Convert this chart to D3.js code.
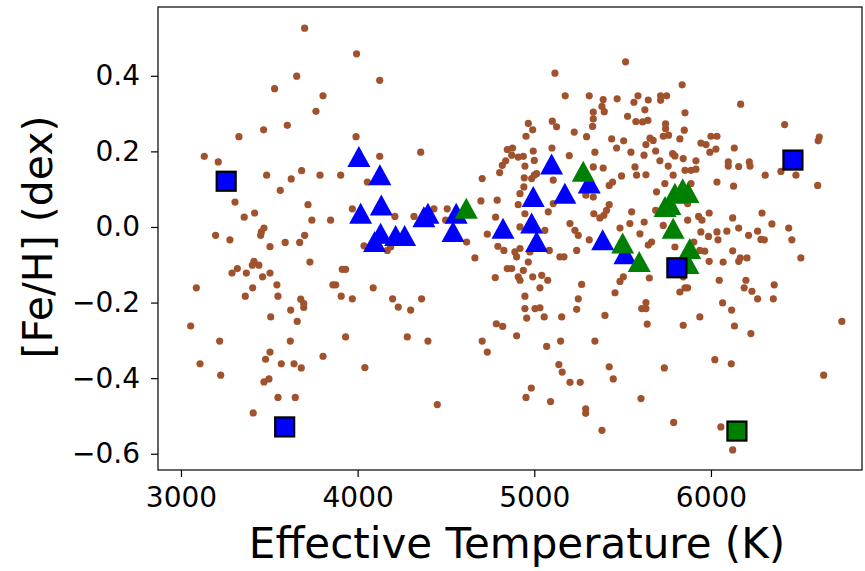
<!DOCTYPE html>
<html>
<head>
<meta charset="UTF-8">
<title>Teff vs FeH</title>
<script src="https://cdn.jsdelivr.net/npm/d3@7"></script>
<style>
  body { margin: 0; background: #fff; }
  svg text { font-family: "DejaVu Sans", sans-serif; }
</style>
</head>
<body>
<svg id="chart" width="865" height="571"></svg>
<script>
// background sample (brown dots): [Teff, [Fe/H]]
const fieldStars = [
  [3700,0.526],[3655,0.399],[3530,0.366],[3804,0.347],[3764,0.306],[3602,0.269],[3468,0.257],[3328,0.239],[3132,0.187],[3211,0.172],
  [3994,0.458],[4125,0.388],[3991,0.239],[4125,0.187],[4357,0.198],[4847,0.205],[4838,0.175],
  [5517,0.437],[5117,0.407],[5837,0.376],[5175,0.347],[5311,0.347],[5390,0.337],[5469,0.339],[5587,0.347],[5564,0.330],
  [5645,0.336],[5715,0.347],[5749,0.347],[5715,0.335],[5383,0.319],[5396,0.305],[5334,0.304],[5626,0.310],[5853,0.302],
  [5528,0.293],[5334,0.286],[5575,0.279],[5613,0.278],[5643,0.282],[5102,0.280],[5126,0.265],[5330,0.266],[4966,0.274],
  [4991,0.257],[5743,0.273],[5743,0.260],[5849,0.256],[5226,0.251],[4953,0.240],[5296,0.239],[5730,0.240],[5760,0.243],
  [5438,0.233],[5506,0.228],[5655,0.235],[5673,0.229],[5824,0.233],[5632,0.218],[5466,0.209],[5547,0.198],[5687,0.201],
  [5621,0.190],[5343,0.198],[5100,0.209],[4994,0.201],[5198,0.189],[4877,0.209],[4872,0.190],[4938,0.187],[4909,0.185],
  [5000,0.176],[5783,0.194],[5796,0.188],[5711,0.175],[5843,0.181],
  [6168,0.325],[6417,0.271],[6000,0.240],[6034,0.240],[5943,0.222],[5972,0.218],[6613,0.238],[6607,0.228],[6132,0.209],
  [6028,0.206],[5994,0.198],[5915,0.175],[6098,0.172],[6217,0.172],
  [3485,0.137],[3624,0.127],[3683,0.149],[3787,0.137],[3562,0.097],[3306,0.066],[3719,0.059],[3417,0.037],[3358,0.026],
  [3741,0.018],[3847,0.018],[3470,-0.003],[3455,-0.013],[3451,-0.022],[3196,-0.022],[3277,-0.034],[3700,-0.022],[3672,-0.041],
  [3590,-0.041],[3504,-0.052],[3730,-0.093],[3413,-0.091],[3441,-0.101],[3404,-0.101],[3319,-0.110],[3289,-0.122],[3370,-0.122],
  [3504,-0.122],[3462,-0.132],[3543,-0.153],[3087,-0.161],[3406,-0.161],[3364,-0.183],[3549,-0.183],[3678,-0.191],[3695,-0.203],
  [3695,-0.213],[3621,-0.220],[3508,-0.238],[3860,-0.153],
  [3904,0.137],[4055,0.119],[3970,0.048],[4211,0.028],[4036,-0.050],[4168,-0.062],[4187,-0.053],[4319,0.028],[4432,0.048],
  [4507,0.048],[4498,0.018],[4617,-0.040],[4664,-0.082],[4698,0.069],[4705,0.128],[4804,0.144],[4819,0.163],[4790,0.071],
  [4781,0.026],[4734,-0.019],[4794,-0.051],[4828,-0.062],[4847,-0.110],[4779,-0.134],[3913,-0.112],[3932,-0.112],[3876,-0.153],
  [4088,-0.161],[3907,-0.183],[3970,-0.190],[4198,-0.190],[4362,-0.190],[4230,-0.212],[4300,-0.220],
  [4947,0.161],[5013,0.141],[4943,0.130],[4985,0.128],[5000,0.137],[4941,0.106],[4919,0.088],[4909,0.059],[4947,0.035],
  [4919,0.000],[5060,-0.009],[5079,0.040],[5107,0.124],[5107,0.062],[5334,0.159],[5390,0.156],[5292,0.084],[5334,0.079],
  [5424,0.110],[5443,0.119],[5494,0.135],[5570,0.159],[5579,0.137],[5632,0.138],[5758,0.161],[5692,0.093],[5739,0.115],
  [5687,0.044],[5730,0.004],[5424,0.059],[5409,0.044],[5394,0.031],[5371,0.024],[5337,0.035],[5551,0.040],[5541,0.009],
  [5622,0.013],[5598,-0.018],[5485,-0.003],[5202,0.009],[5230,-0.009],[5249,-0.022],[5311,-0.034],[5664,-0.040],[5645,-0.048],
  [5240,-0.062],[5145,-0.079],[5168,-0.079],[4900,-0.079],[4890,-0.066],[4919,-0.057],[4975,-0.066],[5085,-0.062],[4966,-0.093],
  [4872,-0.110],[4938,-0.115],[4909,-0.132],[4919,-0.141],[4991,-0.132],[5042,-0.128],[5076,-0.141],[5032,-0.161],[4947,-0.183],
  [4947,-0.216],[5004,-0.216],[5032,-0.214],[5155,-0.238],[5240,-0.218],[5249,-0.190],[5268,-0.152],[5400,-0.234],[5457,-0.174],
  [5485,-0.144],[5504,-0.132],[5651,-0.135],[5632,-0.200],[5632,-0.216],[5608,-0.216],[5853,-0.161],[5843,-0.132],[5824,-0.172],
  [5796,-0.053],[5786,0.137],[5853,0.150],
  [5887,0.150],[5915,0.153],[6098,0.161],[6157,0.160],[6221,0.161],[6307,0.137],[6396,0.147],[6481,0.137],[6604,0.110],
  [6034,0.119],[6128,0.108],[5887,0.115],[5868,0.062],[5990,0.037],[5930,0.028],[5949,0.018],[5868,0.018],[6123,0.024],
  [6289,0.037],[6345,0.008],[6440,-0.003],[6458,-0.034],[6157,-0.003],[6264,-0.011],[6090,-0.011],[6034,-0.013],[5943,-0.013],
  [5986,-0.025],[6040,-0.034],[6213,-0.022],[6283,-0.033],[6302,-0.034],[5903,-0.040],[5937,-0.062],[5965,-0.064],[6123,-0.063],
  [5990,-0.091],[6069,-0.093],[6157,-0.091],[6166,-0.082],[6204,-0.082],[6509,-0.082],[6047,-0.141],[6198,-0.141],[6188,-0.161],
  [6232,-0.170],[6358,-0.153],[6264,-0.190],[6353,-0.190],[6066,-0.201],[6117,-0.220],[5937,-0.238],[5868,-0.161],
  [3658,-0.250],[3055,-0.262],[3219,-0.302],[3619,-0.302],[3504,-0.331],[3479,-0.350],[3804,-0.342],[3108,-0.362],[3568,-0.362],
  [3640,-0.362],[3681,-0.373],[3225,-0.392],[3498,-0.402],[3470,-0.410],[3549,-0.451],[3647,-0.451],[3409,-0.492],
  [3932,-0.291],[4281,-0.291],[4398,-0.302],[4041,-0.372],[4451,-0.470],[4705,-0.302],[4734,-0.331],[4785,-0.256],[4821,-0.263],
  [4957,-0.241],[5056,-0.238],[5639,-0.257],[5843,-0.260],[4900,-0.288],[5070,-0.316],[5149,-0.302],[5343,-0.302],[5139,-0.364],
  [5158,-0.384],[5424,-0.370],[5736,-0.373],[5202,-0.411],[5260,-0.411],[5447,-0.402],[4983,-0.426],[4953,-0.451],[5092,-0.462],
  [5604,-0.454],[5291,-0.481],[5291,-0.493],[5383,-0.538],[5789,-0.517],
  [6133,-0.262],[6226,-0.282],[6741,-0.250],[6022,-0.351],[6115,-0.362],[6638,-0.392],[6056,-0.529],[6123,-0.590]
];

const blueTriangles = [
  [4007,0.185],[4126,0.137],[4017,0.035],[4134,0.057],[4130,-0.018],[4096,-0.040],[4215,-0.024],[4266,-0.024],
  [4375,0.026],[4398,0.035],[4558,0.035],[4540,-0.013],[4823,-0.005],[5098,0.165],[4994,0.079],[5173,0.088],
  [4985,0.009],[5013,-0.040],[5311,0.115],[5387,-0.035],[5513,-0.072]
];
const greenTriangles = [
  [5277,0.146],[4615,0.048],[5500,-0.044],[5594,-0.093],[5740,0.053],[5768,0.058],[5796,0.088],[5840,0.100],
  [5870,0.090],[5786,-0.005],[5880,-0.058],[5870,-0.098]
];
const blueSquares = [[3256,0.121],[3587,-0.529],[5807,-0.108],[6464,0.177]];
const greenSquares = [[6147,-0.540]];

const xTicks = [3000, 4000, 5000, 6000];
const yTicks = [-0.6, -0.4, -0.2, 0.0, 0.2, 0.4];

const svg = d3.select('#chart');
const plotLeft = 158, plotRight = 862, plotTop = 7, plotBottom = 470;

const x = d3.scaleLinear().domain([2870, 6855]).range([plotLeft, plotRight]);
const y = d3.scaleLinear().domain([-0.643, 0.582]).range([plotBottom, plotTop]);

// points
const plot = svg.append('g');
plot.selectAll('circle.field')
  .data(fieldStars)
  .enter().append('circle')
  .attr('class', 'field')
  .attr('cx', d => x(d[0]))
  .attr('cy', d => y(d[1]))
  .attr('r', 3.6)
  .attr('fill', '#a0522d');

const tri = 'M0,-11L11.5,10L-11.5,10Z';
plot.selectAll('path.bt')
  .data(blueTriangles)
  .enter().append('path')
  .attr('class', 'bt')
  .attr('d', tri)
  .attr('transform', d => `translate(${x(d[0])},${y(d[1])})`)
  .attr('fill', '#0000ff');

plot.selectAll('path.gt')
  .data(greenTriangles)
  .enter().append('path')
  .attr('class', 'gt')
  .attr('d', tri)
  .attr('transform', d => `translate(${x(d[0])},${y(d[1])})`)
  .attr('fill', '#008000');

function squares(data, color) {
  plot.selectAll(null)
    .data(data)
    .enter().append('rect')
    .attr('x', d => x(d[0]) - 9.5)
    .attr('y', d => y(d[1]) - 9.5)
    .attr('width', 19)
    .attr('height', 19)
    .attr('fill', color)
    .attr('stroke', '#000')
    .attr('stroke-width', 2.2);
}
squares(blueSquares, '#0000ff');
squares(greenSquares, '#008000');

// axes
const xAxis = svg.append('g')
  .attr('transform', `translate(0,${plotBottom})`)
  .call(d3.axisBottom(x).tickValues(xTicks).tickFormat(d3.format('d')).tickSizeInner(7).tickSizeOuter(0).tickPadding(10));
const yAxis = svg.append('g')
  .attr('transform', `translate(${plotLeft},0)`)
  .call(d3.axisLeft(y).tickValues(yTicks).tickFormat(d3.format('.1f')).tickSizeInner(7).tickSizeOuter(0).tickPadding(11));

[xAxis, yAxis].forEach(g => {
  g.selectAll('text').attr('font-size', 28).attr('fill', '#000').style('font-family', '"DejaVu Sans", sans-serif');
  g.selectAll('line').attr('stroke', '#000').attr('stroke-width', 1.2);
  g.select('.domain').remove();
});

// frame
svg.append('rect')
  .attr('x', plotLeft).attr('y', plotTop)
  .attr('width', plotRight - plotLeft).attr('height', plotBottom - plotTop)
  .attr('fill', 'none').attr('stroke', '#000').attr('stroke-width', 1.2);

svg.append('text')
  .attr('x', 517).attr('y', 558)
  .attr('text-anchor', 'middle')
  .attr('font-size', 42)
  .text('Effective Temperature (K)');

svg.append('text')
  .attr('transform', 'translate(52,237) rotate(-90)')
  .attr('text-anchor', 'middle')
  .attr('font-size', 41)
  .text('[Fe/H] (dex)');
</script>
</body>
</html>
